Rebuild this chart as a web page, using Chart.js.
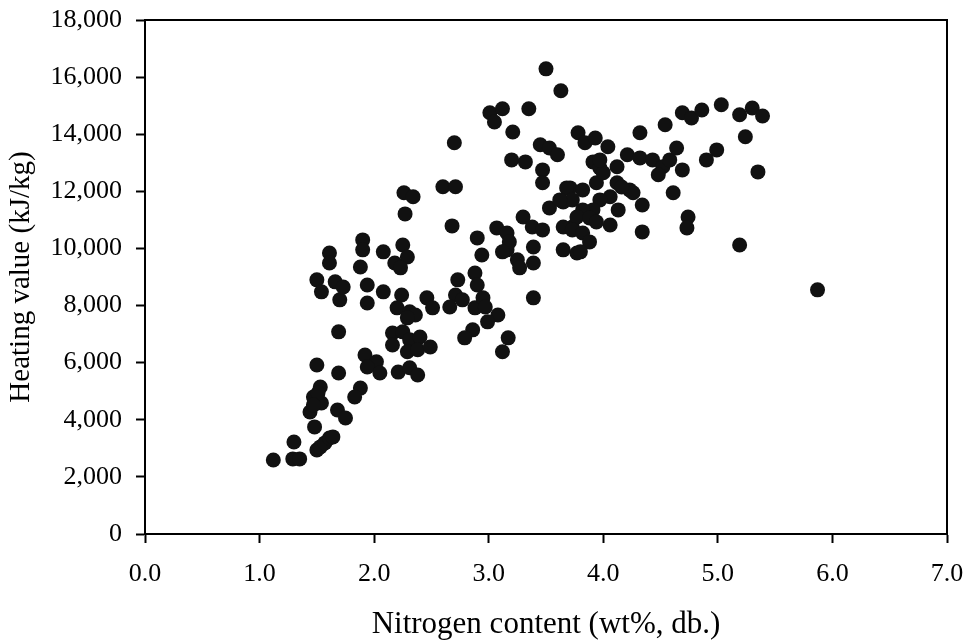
<!DOCTYPE html>
<html>
<head>
<meta charset="utf-8">
<script src="https://cdn.jsdelivr.net/npm/chart.js@4.4.1/dist/chart.umd.min.js"></script>
<style>
  body { margin: 0; background: #fff; }
  #wrap { width: 973px; height: 643px; }
</style>
</head>
<body>
<div id="wrap"><canvas id="myChart" width="973" height="643"></canvas></div>
<script>
// nitrogen content (wt%, db.) vs heating value (kJ/kg)
var nitrogen = [
  1.12, 1.30, 1.29, 1.35, 1.50, 1.53, 1.57, 1.61, 1.64, 1.50, 1.54, 1.66, 1.70, 1.73, 1.61, 1.61,
  1.69, 1.50, 1.69, 1.53, 1.47, 1.54, 1.44, 1.48, 1.68, 1.75, 1.51, 1.47, 1.90, 1.90, 2.08, 2.25,
  2.29, 2.18, 2.23, 1.88, 1.94, 1.94, 2.08, 2.24, 2.20, 2.31, 2.36, 2.29, 2.46, 2.51, 2.16, 2.25,
  2.16, 2.31, 2.40, 2.29, 2.38, 2.49, 1.92, 2.02, 1.94, 2.05, 2.21, 2.31, 2.38, 1.88, 1.83, 2.73,
  2.71, 2.66, 2.77, 2.88, 2.90, 2.88, 2.95, 2.97, 2.94, 2.90, 3.08, 2.99, 2.86, 2.79, 3.17, 3.12,
  3.39, 3.16, 3.25, 3.39, 3.27, 3.39, 3.65, 3.77, 3.50, 3.63, 3.01, 3.12, 3.05, 3.35, 3.21, 2.70,
  3.20, 3.32, 3.45, 3.53, 3.60, 3.47, 3.47, 2.60, 2.71, 2.26, 2.34, 2.27, 2.68, 3.07, 3.16, 3.18,
  3.12, 3.30, 3.38, 3.47, 3.53, 3.65, 3.71, 3.73, 3.78, 3.84, 3.93, 4.04, 4.32, 4.54, 4.69, 4.77,
  4.86, 5.03, 5.19, 5.30, 5.39, 5.24, 4.99, 4.90, 4.21, 4.32, 4.43, 4.52, 4.58, 4.64, 4.69, 4.48,
  4.12, 3.91, 3.97, 4.61, 4.34, 4.74, 4.73, 4.34, 4.06, 4.13, 5.35, 5.19, 5.87, 3.68, 3.73, 3.62,
  3.82, 3.94, 4.00, 4.12, 4.23, 4.26, 4.06, 3.97, 3.91, 3.82, 3.77, 3.88, 3.94, 3.65, 3.73, 3.82,
  3.88, 3.80, 3.97, 4.16
];
var heating = [
  2590, 3220, 2630, 2630, 2940, 3050, 3190, 3360, 3400, 8900, 8480, 8830, 8200, 8650, 9840, 9490,
  7080, 5920, 5640, 5150, 4800, 4590, 4270, 3750, 4340, 4060, 4940, 4520, 10300, 9950, 9880, 10120,
  9700, 9490, 9320, 9350, 8720, 8090, 8480, 8370, 7920, 7780, 7670, 7570, 8270, 7920, 7040, 7080,
  6620, 6800, 6900, 6380, 6450, 6550, 6270, 6030, 5850, 5640, 5670, 5820, 5570, 5110, 4800, 8900,
  8370, 7950, 8200, 9140, 8720, 7920, 8270, 7950, 9770, 10370, 7670, 7430, 7150, 6870, 6870, 6380,
  8270, 9950, 9600, 10050, 9320, 9490, 9950, 9840, 16290, 15520, 14750, 14890, 14430, 14890, 14080, 13700,
  13100, 13030, 13630, 13520, 13280, 12750, 12300, 12160, 12160, 11950, 11810, 11210, 10790, 10720, 10540, 10230,
  9880, 11100, 10750, 10650, 11420, 11630, 12120, 10750, 14050, 13700, 13870, 13560, 14050, 14330, 14750, 14570,
  14850, 15030, 14680, 14920, 14640, 13910, 13450, 13100, 13280, 13170, 13100, 12860, 13100, 13520, 12750, 12580,
  12860, 13030, 12820, 11950, 11520, 11100, 10720, 10580, 10820, 11350, 12680, 10120, 8550, 12120, 11700, 11700,
  12050, 12300, 12650, 12300, 12050, 11950, 11810, 11700, 11350, 11350, 11100, 11070, 10930, 10750, 10650, 10540,
  10230, 9880, 13100, 12150
];
var xTicks = [0, 1, 2, 3, 4, 5, 6, 7];
var yTicks = [0, 2000, 4000, 6000, 8000, 10000, 12000, 14000, 16000, 18000];

var points = nitrogen.map(function(n, i) { return { x: n, y: heating[i] }; });

var serif = "'Liberation Serif', 'Times New Roman', serif";

// closes the box on top and right
var frame = {
  id: 'frame',
  afterDraw: function(chart) {
    var a = chart.chartArea, ctx = chart.ctx;
    ctx.save();
    ctx.strokeStyle = '#000';
    ctx.lineWidth = 2;
    ctx.beginPath();
    ctx.moveTo(a.left, a.top);
    ctx.lineTo(a.right, a.top);
    ctx.lineTo(a.right, a.bottom);
    ctx.stroke();
    ctx.restore();
  }
};

new Chart(document.getElementById('myChart'), {
  type: 'scatter',
  data: {
    datasets: [{
      data: points,
      backgroundColor: '#111',
      borderWidth: 0,
      pointRadius: 7.5,
      pointHoverRadius: 7.5
    }]
  },
  options: {
    responsive: false,
    animation: false,
    layout: { padding: { top: 20, right: 26, left: 0, bottom: 0 } },
    plugins: { legend: { display: false }, tooltip: { enabled: false } },
    scales: {
      x: {
        type: 'linear',
        min: xTicks[0],
        max: xTicks[xTicks.length - 1],
        afterBuildTicks: function(s) { s.ticks = xTicks.map(function(v) { return { value: v }; }); },
        afterFit: function(s) { s.height = 109; s.paddingLeft = 0; s.paddingRight = 0; },
        ticks: {
          color: '#000',
          font: { family: serif, size: 26 },
          padding: 16,
          maxRotation: 0,
          callback: function(v) { return Number(v).toFixed(1); }
        },
        grid: { display: true, drawOnChartArea: false, drawTicks: true, tickLength: 9, tickWidth: 2, color: '#000' },
        border: { display: true, color: '#000', width: 2 },
        title: {
          display: true,
          text: 'Nitrogen content (wt%, db.)',
          color: '#000',
          font: { family: serif, size: 31 },
          padding: { top: 0, bottom: 0 }
        }
      },
      y: {
        type: 'linear',
        min: yTicks[0],
        max: yTicks[yTicks.length - 1],
        afterBuildTicks: function(s) { s.ticks = yTicks.map(function(v) { return { value: v }; }); },
        afterFit: function(s) { s.width = 145; s.paddingTop = 0; s.paddingBottom = 0; },
        ticks: {
          color: '#000',
          font: { family: serif, size: 26 },
          padding: 14,
          callback: function(v) { return Number(v).toLocaleString('en-US'); }
        },
        grid: { display: true, drawOnChartArea: false, drawTicks: true, tickLength: 9, tickWidth: 2, color: '#000' },
        border: { display: true, color: '#000', width: 2 },
        title: {
          display: true,
          text: 'Heating value (kJ/kg)',
          color: '#000',
          font: { family: serif, size: 29 },
          padding: { top: 4, bottom: 0 }
        }
      }
    }
  },
  plugins: [frame]
});
</script>
</body>
</html>
